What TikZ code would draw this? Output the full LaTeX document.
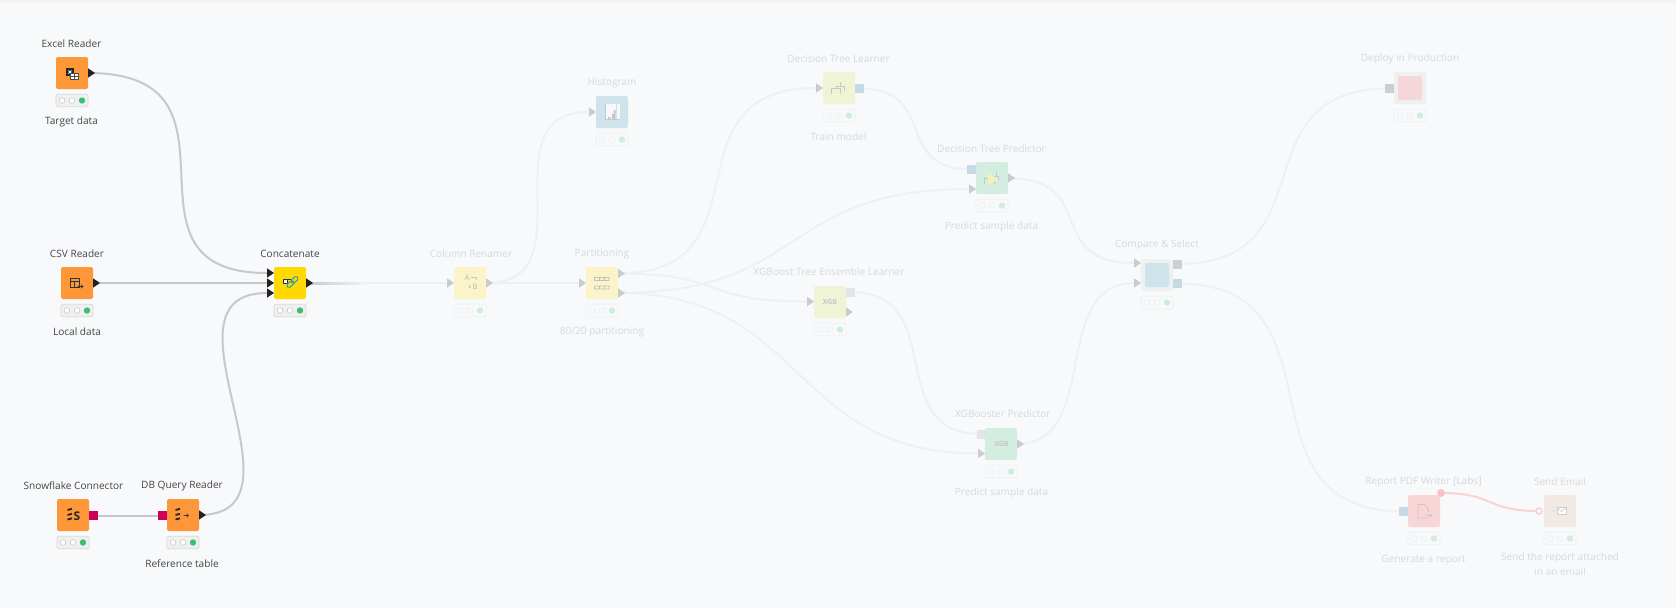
\documentclass[tikz,border=0pt]{standalone}
\usepackage{fontspec}
\setmainfont{Open Sans}
\begin{document}
\definecolor{bgc}{HTML}{F8F9FB}
\definecolor{txs}{HTML}{454545}
\definecolor{txf}{HTML}{D7D8DA}
\definecolor{edgs}{HTML}{C6C8C9}
\definecolor{edgf}{HTML}{EFF0F1}
\definecolor{cOrange}{HTML}{FE9737}
\definecolor{cYellow}{HTML}{FFD900}
\definecolor{cMani}{HTML}{FBF3C9}
\definecolor{cView}{HTML}{CEE3EA}
\definecolor{cLearn}{HTML}{F0F4D7}
\definecolor{cPred}{HTML}{D3EDE0}
\definecolor{cPink}{HTML}{F6D7D9}
\definecolor{cRep}{HTML}{F8D6D7}
\definecolor{cMail}{HTML}{F2E9E3}
\definecolor{cBorder}{HTML}{EFF0F1}
\definecolor{triS}{HTML}{222222}
\definecolor{triF}{HTML}{CACBCD}
\definecolor{portRed}{HTML}{CF005A}
\definecolor{portBlue}{HTML}{C6DAE6}
\definecolor{portGray}{HTML}{CDCECF}
\definecolor{portLight}{HTML}{E3E4E5}
\definecolor{redEdge}{HTML}{F8D3D4}
\definecolor{greenS}{HTML}{3CBF75}
\definecolor{greenF}{HTML}{CDEEDC}
\definecolor{chain}{HTML}{2E9FB5}
\definecolor{playY}{HTML}{F2F0B4}
\tikzset{
  kbox/.style={minimum size=32pt,inner sep=0pt,rounded corners=2pt},
  lblS/.style={font=\fontsize{10.1pt}{15pt}\selectfont,text=txs,inner sep=0pt,align=center},
  lblF/.style={font=\fontsize{10.1pt}{15pt}\selectfont,text=txf,inner sep=0pt,align=center},
  edgeS/.style={draw=edgs,line width=2pt},
  edgeF/.style={draw=edgf,line width=2pt},
  edgeR/.style={draw=redEdge,line width=2pt},
  sqport/.style={minimum size=9pt,inner sep=0pt},
  icS/.style={draw=black!80,line width=.8pt},
  icF/.style={draw=black!22,line width=.7pt}
}
\newcommand{\knode}[5]{% name,x,y,fill,mode
  \node[kbox,fill=#4] (#1) at (#2,#3) {};
  \ifx#5S
    \node[minimum width=32pt,minimum height=12.5pt,inner sep=0pt,rounded corners=1.5pt,draw=black!15,fill=black!6,line width=.8pt] (#1s) at (#2,#3+27.5) {};
    \filldraw[fill=white,draw=black!22,line width=.6pt] (#2-10,#3+27.5) circle (2.9pt) (#2,#3+27.5) circle (2.9pt);
    \fill[greenS] (#2+10,#3+27.5) circle (3.2pt);
  \else
    \node[minimum width=32pt,minimum height=12.5pt,inner sep=0pt,rounded corners=1.5pt,draw=edgf,fill=bgc,line width=.8pt] (#1s) at (#2,#3+27.5) {};
    \draw[draw=edgf,line width=.6pt] (#2-10,#3+27.5) circle (2.9pt) (#2,#3+27.5) circle (2.9pt);
    \fill[greenF] (#2+10,#3+27.5) circle (3.2pt);
  \fi
}
\newcommand{\tri}[2]{\fill[#2] (#1) ++(0,-4.7) -- ++(7,4.7) -- ++(-7,4.7) -- cycle;}
\newcommand{\sqp}[2]{\node[sqport,fill=#2] at (#1) {};}
\begin{tikzpicture}[x=1pt,y=-1pt]
\useasboundingbox (0,0) rectangle (1676,608);
\fill[bgc] (0,0) rectangle (1676,608);
\shade[top color=black!5,bottom color=bgc] (0,0) rectangle (1676,4);

% nodes
\knode{excel}{72}{73}{cOrange}{S}
\knode{csv}{77}{283}{cOrange}{S}
\knode{concat}{290}{283}{cYellow}{S}
\knode{snow}{73}{515}{cOrange}{S}
\knode{dbq}{183}{515}{cOrange}{S}
\knode{renamer}{470}{283}{cMani}{F}
\knode{part}{602}{283}{cMani}{F}
\knode{hist}{612}{112}{cView}{F}
\knode{dtl}{839}{88}{cLearn}{F}
\knode{dtp}{992}{178}{cPred}{F}
\knode{xgl}{830}{302}{cLearn}{F}
\knode{xgp}{1001}{444}{cPred}{F}
\knode{cmp}{1157}{275}{cBorder}{F}
\node[minimum size=24pt,inner sep=0pt,rounded corners=1.5pt,fill=cView] (cmpin) at (1157,275) {};
\knode{dep}{1410}{88}{cBorder}{F}
\node[minimum size=24pt,inner sep=0pt,rounded corners=1.5pt,fill=cPink] (depin) at (1410,88) {};
\knode{rep}{1424}{511}{cRep}{F}
\knode{mail}{1560}{511}{cMail}{F}

% port coordinates
\coordinate (excelO) at (88,73);
\coordinate (csvO) at (93,283);
\coordinate (conI1) at (267,273);
\coordinate (conI2) at (267,283);
\coordinate (conI3) at (267,293);
\coordinate (conO) at (306,283);
\coordinate (snowO) at (93.5,515.5);
\coordinate (dbqI) at (162.5,515.5);
\coordinate (dbqO) at (199,515);
\coordinate (renI) at (447,283);
\coordinate (renO) at (486,283);
\coordinate (partI) at (579,283);
\coordinate (partO1) at (618,273.5);
\coordinate (partO2) at (618,293);
\coordinate (histI) at (589,112);
\coordinate (dtlI) at (816,88);
\coordinate (dtlO) at (859.5,88.5);
\coordinate (dtpM) at (971.5,169.5);
\coordinate (dtpI) at (969,189);
\coordinate (dtpO) at (1008,178);
\coordinate (xglI) at (807,301.5);
\coordinate (xglM) at (850.5,292);
\coordinate (xglO) at (846,312);
\coordinate (xgpM) at (981,434);
\coordinate (xgpI) at (978,453.5);
\coordinate (xgpO) at (1017,444);
\coordinate (cmpI1) at (1134,263);
\coordinate (cmpI2) at (1134,283);
\coordinate (cmpM1) at (1177.5,264);
\coordinate (cmpM2) at (1177.5,283.5);
\coordinate (depM) at (1389.5,88.5);
\coordinate (repM) at (1403.5,511.5);
\coordinate (repO) at (1441,493);
\coordinate (mailI) at (1539,511);

% connectors
\draw[edgeS] (excelO) .. controls +(175,0) and +(-165,0) .. (conI1);
\draw[edgeS] (csvO) -- (conI2);
\draw[edgeS] (dbqO) .. controls +(118,0) and +(-118,0) .. (conI3);
\draw[edgeS] (snowO) -- (dbqI);
\draw[edgeF] (conO) -- (renI);
\shade[left color=edgs,right color=edgf] (306,282) rectangle (362,284);
\draw[edgeF] (renO) -- (partI);
\draw[edgeF] (renO) .. controls +(105,0) and +(-105,0) .. (histI);
\draw[edgeF] (partO1) .. controls +(155,0) and +(-155,0) .. (dtlI);
\draw[edgeF] (partO1) .. controls +(110,0) and +(-110,0) .. (xglI);
\draw[edgeF] (partO2) .. controls +(190,0) and +(-190,0) .. (dtpI);
\draw[edgeF] (partO2) .. controls +(190,0) and +(-190,0) .. (xgpI);
\draw[edgeF] (dtlO) .. controls +(80,0) and +(-80,0) .. (dtpM);
\draw[edgeF] (dtpO) .. controls +(92,0) and +(-92,0) .. (cmpI1);
\draw[edgeF] (xglM) .. controls +(100,0) and +(-100,0) .. (xgpM);
\draw[edgeF] (xgpO) .. controls +(85,0) and +(-85,0) .. (cmpI2);
\draw[edgeF] (cmpM1) .. controls +(155,0) and +(-155,0) .. (depM);
\draw[edgeF] (cmpM2) .. controls +(175,0) and +(-175,0) .. (repM);
\draw[edgeR] (repO) .. controls +(55,0) and +(-55,0) .. (mailI);

% ports
\tri{excelO}{triS}\tri{csvO}{triS}
\tri{conI1}{triS}\tri{conI2}{triS}\tri{conI3}{triS}\tri{conO}{triS}
\sqp{snowO}{portRed}\sqp{dbqI}{portRed}\tri{dbqO}{triS}
\tri{renI}{triF}\tri{renO}{triF}\tri{partI}{triF}\tri{partO1}{triF}\tri{partO2}{triF}
\tri{histI}{triF}\tri{dtlI}{triF}\sqp{dtlO}{portBlue}
\sqp{dtpM}{portBlue}\tri{dtpI}{triF}\tri{dtpO}{triF}
\tri{xglI}{triF}\sqp{xglM}{portLight}\tri{xglO}{triF}
\sqp{xgpM}{portLight}\tri{xgpI}{triF}\tri{xgpO}{triF}
\tri{cmpI1}{triF}\tri{cmpI2}{triF}\sqp{cmpM1}{portGray}\sqp{cmpM2}{portBlue}
\sqp{depM}{portGray}\sqp{repM}{portBlue}
\fill[cRep!90!red] (repO) circle (3.9pt);
\filldraw[fill=bgc,draw=redEdge,line width=1.6pt] (mailI) circle (3pt);

% labels
\node[lblS] (l1) at (71.5,44) {Excel Reader};
\node[lblS] (l2) at (71.5,122) {Target data};
\node[lblS] (l3) at (77,254) {CSV Reader};
\node[lblS] (l4) at (77,332) {Local data};
\node[lblS] (l5) at (290,254) {Concatenate};
\node[lblS] (l6) at (73.5,486) {Snowflake Connector};
\node[lblS] (l7) at (182,486) {DB Query Reader};
\node[lblS] (l8) at (182,564) {Reference table};
\node[lblF] (l9) at (471,254) {Column Renamer};
\node[lblF] (l10) at (602,254) {Partitioning};
\node[lblF] (l11) at (602,332) {80/20 partitioning};
\node[lblF] (l12) at (612,83) {Histogram};
\node[lblF] (l13) at (838.5,59) {Decision Tree Learner};
\node[lblF] (l14) at (838.5,137) {Train model};
\node[lblF] (l15) at (991.5,149) {Decision Tree Predictor};
\node[lblF] (l16) at (991.5,227) {Predict sample data};
\node[lblF] (l17) at (829,272) {XGBoost Tree Ensemble Learner};
\node[lblF] (l18) at (1001.5,414) {.XGBooster Predictor};
\node[lblF] (l19) at (1001.5,493) {Predict sample data};
\node[lblF] (l20) at (1157,245) {Compare \& Select};
\node[lblF] (l21) at (1410,59) {Deploy in Production};
\node[lblF] (l22) at (1423.5,482) {Report PDF Writer [Labs]};
\node[lblF] (l23) at (1423.5,560) {Generate a report};
\node[lblF] (l24) at (1560,482) {Send Email};
\node[lblF,anchor=north] (l25) at (1560,553) {Send the report attached\\in an email};

% icons
% excel
\fill[black!85] (66,68) rectangle (74,76);
\draw[white,line width=.8pt] (68.5,70.5) -- (71.5,73.5) (71.5,70.5) -- (68.5,73.5);
\filldraw[fill=white,draw=black!70,line width=.7pt] (70,73) rectangle (78.5,79.5);
\draw[black!70,line width=.7pt] (70,76.2) -- (78.5,76.2) (74.5,73) -- (74.5,79.5);
% csv
\draw[icS] (70.5,278.5) rectangle (79.5,287);
\draw[icS] (70.5,281.5) -- (79.5,281.5) (74,281.5) -- (74,287);
\draw[icS,line width=.7pt] (77.5,286.5) -- (83,286.5) (81,284.8) -- (83,286.5) -- (81,288.2);
% concat
\filldraw[fill=white,draw=black!80,line width=.8pt] (283.5,279.5) rectangle (287,283);
\draw[black!80,line width=.8pt] (287,279.5) -- (291,279.5);
\draw[chain,line width=1pt,rounded corners=1.8pt,rotate around={45:(292.5,282)}] (285.5,280) rectangle +(8,4) (291.5,280) rectangle +(8,4);
% snowflake
\foreach \yy in {510,515,519.5}{\draw[black!85,line width=1.8pt] (67.5,\yy) -- (72,\yy-1.2);}
\node[font=\fontsize{12}{12}\selectfont\bfseries,text=black!85,inner sep=0pt] (iS) at (77,516) {S};
% db query
\foreach \yy in {510,515,519.5}{\draw[black!85,line width=1.8pt] (175.5,\yy) -- (180,\yy-1.2);}
\draw[black!75,line width=.7pt] (183.5,515.5) -- (188.5,515.5) (186.7,513.8) -- (188.5,515.5) -- (186.7,517.2);
% renamer
\node[font=\fontsize{7.5}{7.5}\selectfont,text=black!28,inner sep=0pt] (iA) at (467,278) {A};
\node[font=\fontsize{7.5}{7.5}\selectfont,text=black!28,inner sep=0pt] (iB) at (475,287) {B};
\draw[icF] (471,277) -- (476,277) -- (476,280) (469,284.5) -- (469,287) -- (471,287);
% partitioning
\draw[black!25,line width=.8pt,rounded corners=.5pt] (594.5,277.5) rectangle (609,280.5) (594.5,286) rectangle (609,289);
\draw[black!25,line width=.8pt] (599,277.5) -- (599,280.5) (604,277.5) -- (604,280.5) (599,286) -- (599,289) (604,286) -- (604,289);
% histogram
\fill[white!80!cView] (605,104) rectangle (620,119);
\fill[black!22] (608,117) rectangle (610.5,119) (612,114) rectangle (614.5,119) (613.5,110) rectangle (615.5,119);
\fill[cView] (615.5,104) rectangle (616.5,119);
\draw[black!22,line width=.7pt] (605,119) -- (620,119) (605,104) -- (605,119);
% decision tree learner
\draw[icF] (831,94) -- (831,88) -- (840,88) -- (840,94) (840,86) -- (844.5,86) -- (844.5,91) (840,86) -- (840,82);
\draw[icF] (836,88) -- (836,86) -- (840,86);
% predictor
\draw[icF] (984.5,184) -- (984.5,178) -- (994,178) -- (994,184) (994,176) -- (998,176) -- (998,180) (996,176) -- (996,171.5);
\fill[playY] (988,173) -- (998,179) -- (988,185) -- cycle;
% XGB
\node[font=\fontsize{7}{7}\selectfont\bfseries,text=black!22,inner sep=0pt] (iX1) at (830,301.5) {XGB};
\node[font=\fontsize{7}{7}\selectfont\bfseries,text=black!22,inner sep=0pt] (iX2) at (1001.5,443.5) {XGB};
% report
\draw[icF] (1424,504.5) -- (1418,504.5) -- (1418,518) -- (1429,518) (1424,504.5) -- (1428.5,509) -- (1428.5,512);
\draw[icF] (1426,515.5) -- (1431.5,515.5) (1430,514) -- (1431.5,515.5) -- (1430,517);
% mail
\filldraw[fill=white,draw=black!20,line width=.7pt] (1557,507.5) rectangle (1566,514.5);
\draw[black!20,line width=.7pt] (1557,507.5) -- (1561.5,511.5) -- (1566,507.5);
\fill[black!20] (1552.5,510.5) -- (1555,510.5) -- (1553.7,512) -- cycle;
\end{tikzpicture}
\end{document}
